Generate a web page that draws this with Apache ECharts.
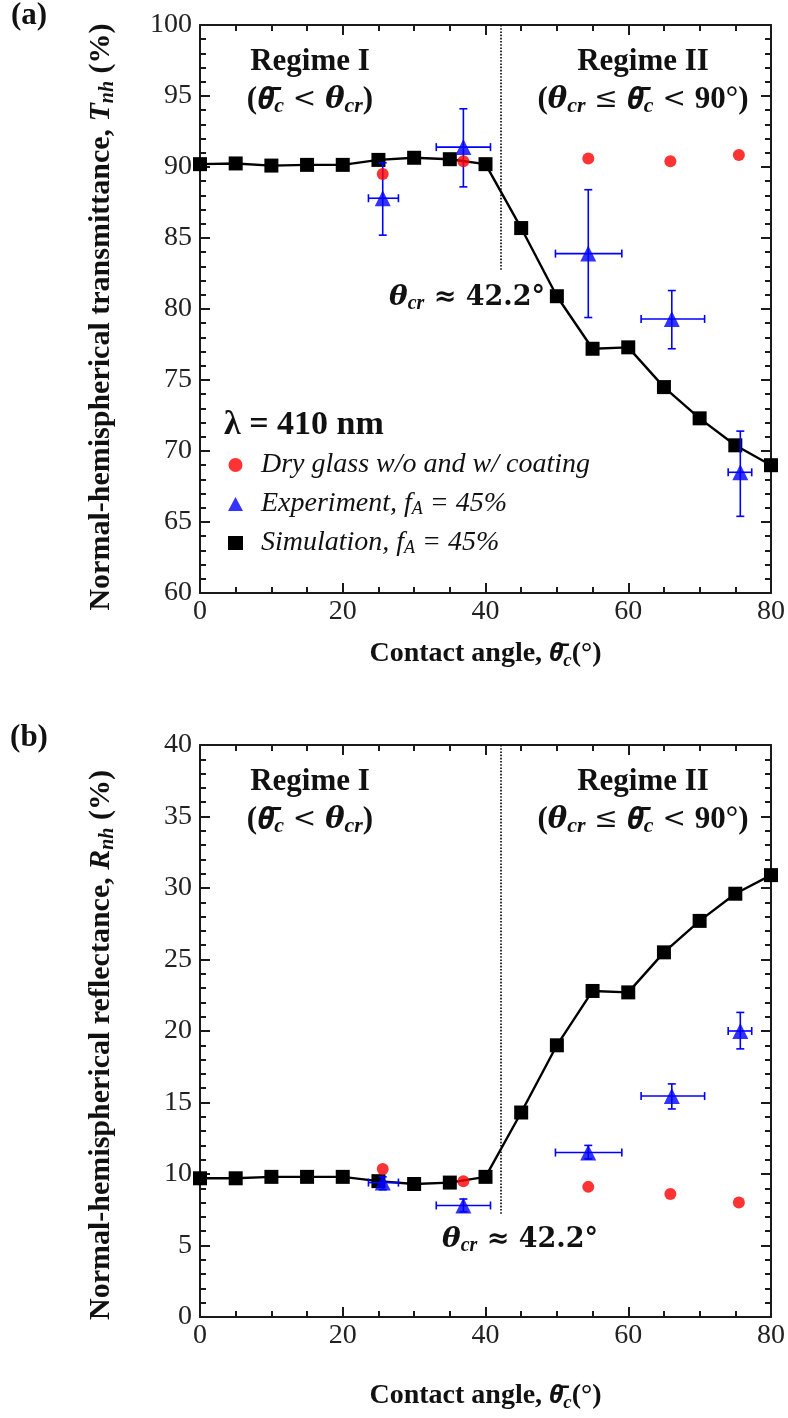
<!DOCTYPE html>
<html>
<head>
<meta charset="utf-8">
<script src="https://cdn.jsdelivr.net/npm/echarts@6/dist/echarts.min.js"></script>
<style>
html,body{margin:0;padding:0;background:#fff;}
#c{width:788px;height:1418px;}
</style>
</head>
<body>
<div id="c"></div>
<script>
// ---------- data ----------
const simX = [0, 5, 10, 15, 20, 25, 30, 35, 40, 45, 50, 55, 60, 65, 70, 75, 80];
const simT = [90.2, 90.25, 90.1, 90.15, 90.15, 90.5, 90.65, 90.55, 90.2, 85.7, 80.9, 77.2, 77.3, 74.5, 72.3, 70.4, 69.0];
const simR = [9.7, 9.7, 9.8, 9.8, 9.8, 9.5, 9.3, 9.4, 9.8, 14.3, 19.0, 22.8, 22.7, 25.5, 27.7, 29.6, 30.9];

const expX   = [25.6, 36.9, 54.4, 66.1, 75.7];
const expXLo = [23.6, 33.1, 49.8, 61.8, 74.0];
const expXHi = [27.8, 40.7, 59.1, 70.7, 77.3];
const expT   = [87.8, 91.4, 83.9, 79.3, 68.5];
const expTLo = [85.2, 88.6, 79.4, 77.2, 65.4];
const expTHi = [90.3, 94.1, 88.4, 81.3, 71.4];
const expR   = [9.4, 7.8, 11.5, 15.45, 20.0];
const expRLo = [8.9, 7.35, 11.05, 14.55, 18.75];
const expRHi = [9.8, 8.25, 12.0, 16.3, 21.3];

const dryX = [25.6, 36.9, 54.4, 65.9, 75.5];
const dryT = [89.5, 90.4, 90.6, 90.4, 90.85];
const dryR = [10.35, 9.5, 9.1, 8.6, 8.0];

const thetaCr = 42.2;
const xTickLabels = ['0', '20', '40', '60', '80'];

const NAME_DRY = 'Dry glass w/o and w/ coating';
const NAME_EXP = 'Experiment, fA = 45%';
const NAME_SIM = 'Simulation, fA = 45%';

// ---------- helpers ----------
const SERIF = '"Liberation Serif","Times New Roman",serif';
const MATH = '"DejaVu Serif","Liberation Serif",serif';
const OVF = '"Noto Sans","DejaVu Sans",sans-serif';
const AX = '#1a1a1a';

function pairs(xs, ys) { return xs.map((x, i) => [x, ys[i]]); }
function errData(xs, ys, xl, xh, yl, yh) { return xs.map((x, i) => [x, ys[i], xl[i], xh[i], yl[i], yh[i]]); }

function errRender(params, api) {
  const x = api.value(0), y = api.value(1);
  const c = api.coord([x, y]);
  const l = api.coord([api.value(2), y]);
  const r = api.coord([api.value(3), y]);
  const b = api.coord([x, api.value(4)]);
  const t = api.coord([x, api.value(5)]);
  const cap = 4;
  const st = { stroke: '#0000ff', lineWidth: 1.6, fill: null };
  return {
    type: 'group',
    children: [
      { type: 'line', shape: { x1: l[0], y1: c[1], x2: r[0], y2: c[1] }, style: st },
      { type: 'line', shape: { x1: c[0], y1: b[1], x2: c[0], y2: t[1] }, style: st },
      { type: 'line', shape: { x1: l[0], y1: c[1] - cap, x2: l[0], y2: c[1] + cap }, style: st },
      { type: 'line', shape: { x1: r[0], y1: c[1] - cap, x2: r[0], y2: c[1] + cap }, style: st },
      { type: 'line', shape: { x1: c[0] - cap, y1: b[1], x2: c[0] + cap, y2: b[1] }, style: st },
      { type: 'line', shape: { x1: c[0] - cap, y1: t[1], x2: c[0] + cap, y2: t[1] }, style: st }
    ]
  };
}

const titleRich = {
  n: { fontFamily: SERIF, fontWeight: 'bold', fontSize: 30, color: '#111', fill: '#111', lineHeight: 34, verticalAlign: 'middle' },
  bi: { fontFamily: SERIF, fontWeight: 'bold', fontStyle: 'italic', fontSize: 30, color: '#111', fill: '#111', lineHeight: 34, verticalAlign: 'middle' },
  ov: { fontFamily: OVF, fontWeight: 'bold', fontStyle: 'italic', fontSize: 25, color: '#111', fill: '#111', lineHeight: 34, verticalAlign: 'middle' },
  sub: { fontFamily: SERIF, fontWeight: 'bold', fontStyle: 'italic', fontSize: 20, color: '#111', fill: '#111', lineHeight: 26, verticalAlign: 'bottom' }
};
const xTitleRich = Object.assign({}, titleRich, {
  n: Object.assign({}, titleRich.n, { fontSize: 28 }),
  sub: Object.assign({}, titleRich.sub, { fontSize: 19 })
});

function xAxes(gridIndex, nameGap) {
  const base = {
    gridIndex, type: 'value', min: 0, max: 80, interval: 20,
    axisLine: { show: true, onZero: false, lineStyle: { color: AX, width: 2 } },
    axisTick: { show: true, inside: true, length: 10, lineStyle: { color: AX, width: 2 } },
    minorTick: { show: true, splitNumber: 4, length: 6, lineStyle: { color: AX, width: 2 } },
    splitLine: { show: false }
  };
  return [
    Object.assign({}, base, {
      position: 'bottom',
      axisLabel: { show: true, margin: 5, color: '#222', fontFamily: SERIF, fontSize: 28,
        formatter: v => xTickLabels[Math.round(v / 20)] },
      name: '{n|Contact angle, }{ov|θ̄}{sub|c}{n|(°)}',
      nameLocation: 'middle', nameGap,
      nameTextStyle: { rich: xTitleRich }
    }),
    Object.assign({}, base, { position: 'top', axisLabel: { show: false } })
  ];
}

function yAxes(gridIndex, min, max) {
  const base = {
    gridIndex, type: 'value', min, max, interval: 5,
    axisLine: { show: true, onZero: false, lineStyle: { color: AX, width: 2 } },
    axisTick: { show: true, inside: true, length: 10, lineStyle: { color: AX, width: 2 } },
    minorTick: { show: true, splitNumber: 5, length: 6, lineStyle: { color: AX, width: 2 } },
    splitLine: { show: false }
  };
  return [
    Object.assign({}, base, {
      position: 'left',
      axisLabel: { show: true, margin: 8, color: '#222', fontFamily: SERIF, fontSize: 28 }
    }),
    Object.assign({}, base, { position: 'right', axisLabel: { show: false } })
  ];
}

function seriesFor(gi, simY, dryY, eY, eLo, eHi, lineEndY) {
  const xa = gi * 2, ya = gi * 2;
  return [
    {
      name: NAME_SIM, type: 'line', xAxisIndex: xa, yAxisIndex: ya,
      data: pairs(simX, simY), symbol: 'rect', symbolSize: 14, clip: false,
      lineStyle: { color: '#000', width: 2.4 }, itemStyle: { color: '#000' }, z: 3,
      markLine: {
        silent: true, symbol: 'none', label: { show: false },
        lineStyle: { color: '#000', type: 'dotted', width: 1.6 },
        data: [[{ coord: [thetaCr, lineEndY[0]] }, { coord: [thetaCr, lineEndY[1]] }]]
      }
    },
    {
      type: 'custom', xAxisIndex: xa, yAxisIndex: ya, renderItem: errRender,
      data: errData(expX, eY, expXLo, expXHi, eLo, eHi), encode: { x: 0, y: 1 }, z: 4, silent: true
    },
    {
      name: NAME_EXP, type: 'scatter', xAxisIndex: xa, yAxisIndex: ya,
      data: pairs(expX, eY), symbol: 'triangle', symbolSize: 16,
      itemStyle: { color: '#0000ff' }, z: 5
    },
    {
      name: NAME_DRY, type: 'scatter', xAxisIndex: xa, yAxisIndex: ya,
      data: pairs(dryX, dryY), symbol: 'circle', symbolSize: 12,
      itemStyle: { color: '#ff0000' }, z: 6
    }
  ];
}

const boldRich = {
  b: { fontFamily: SERIF, fontWeight: 'bold', fontSize: 31, fill: '#111', lineHeight: 34, verticalAlign: 'middle' },
  th: { fontFamily: MATH, fontWeight: 'bold', fontStyle: 'italic', fontSize: 29, fill: '#111', lineHeight: 34, verticalAlign: 'middle' },
  ov: { fontFamily: OVF, fontWeight: 'bold', fontStyle: 'italic', fontSize: 30, fill: '#111', lineHeight: 34, verticalAlign: 'middle' },
  sub: { fontFamily: SERIF, fontWeight: 'bold', fontStyle: 'italic', fontSize: 22, fill: '#111', lineHeight: 22, verticalAlign: 'bottom' },
  op: { fontFamily: MATH, fontSize: 28, fill: '#111', lineHeight: 34, verticalAlign: 'middle' }
};
const annRich = {
  th: { fontFamily: MATH, fontWeight: 'bold', fontStyle: 'italic', fontSize: 28, fill: '#111', lineHeight: 32, verticalAlign: 'middle' },
  sub: { fontFamily: SERIF, fontWeight: 'bold', fontStyle: 'italic', fontSize: 20, fill: '#111', lineHeight: 20, verticalAlign: 'bottom' },
  m: { fontFamily: MATH, fontWeight: 'bold', fontSize: 27, fill: '#111', lineHeight: 32, verticalAlign: 'middle' }
};

function txt(x, y, text, rich, align, rotation) {
  return { type: 'text', x, y, rotation: rotation || 0, silent: true,
    style: { text, rich, textAlign: align || 'center', textVerticalAlign: 'middle', fill: '#111' } };
}

const chart = echarts.init(document.getElementById('c'), null, { renderer: 'canvas' });

const option = {
  backgroundColor: '#fff',
  animation: false,
  grid: [
    { left: 200, top: 25, width: 576, height: 568 },
    { left: 200, top: 745, width: 576, height: 572 }
  ],
  xAxis: [...xAxes(0, 44), ...xAxes(1, 62)],
  yAxis: [...yAxes(0, 60, 100), ...yAxes(1, 0, 40)],
  legend: {
    orient: 'vertical', left: 228, top: 451, padding: 0, itemGap: 11,
    itemWidth: 15, itemHeight: 14, selectedMode: false,
    data: [
      { name: NAME_DRY, icon: 'circle', itemStyle: { color: '#ff0000' } },
      { name: NAME_EXP, icon: 'triangle', itemStyle: { color: '#0000ff' } },
      { name: NAME_SIM, icon: 'rect', itemStyle: { color: '#000' } }
    ],
    formatter: function (n) {
      if (n === NAME_DRY) return '{it|Dry glass w/o and w/ coating}';
      if (n === NAME_EXP) return '{it|Experiment, f}{sub|A}{it| = 45%}';
      return '{it|Simulation, f}{sub|A}{it| = 45%}';
    },
    textStyle: {
      padding: [0, 0, 0, 13],
      rich: {
        it: { fontFamily: SERIF, fontStyle: 'italic', fontSize: 28, color: '#111', lineHeight: 28, verticalAlign: 'middle' },
        sub: { fontFamily: SERIF, fontStyle: 'italic', fontSize: 18, color: '#111', lineHeight: 16, verticalAlign: 'bottom' }
      }
    }
  },
  series: [
    ...seriesFor(0, simT, dryT, expT, expTLo, expTHi, [100, 82.7]),
    ...seriesFor(1, simR, dryR, expR, expRLo, expRHi, [40, 7.2])
  ],
  graphic: [
    txt(29, 16, '{b|(a)}', boldRich),
    txt(29, 738, '{b|(b)}', boldRich),
    // y-axis titles
    txt(101, 317, '{n|Normal-hemispherical transmittance, }{bi|T}{sub|nh}{n| (%)}', titleRich, 'center', Math.PI / 2),
    txt(101, 1045, '{n|Normal-hemispherical reflectance, }{bi|R}{sub|nh}{n| (%)}', titleRich, 'center', Math.PI / 2),
    // top panel annotations
    txt(310, 62, '{b|Regime I}', boldRich),
    txt(310, 100, '{b|(}{ov|θ̄}{sub|c}{op| < }{th|θ}{sub|cr}{b|)}', boldRich),
    txt(643, 62, '{b|Regime II}', boldRich),
    txt(643, 100, '{b|(}{th|θ}{sub|cr}{op| ≤ }{ov|θ̄}{sub|c}{op| < }{b|90°)}', boldRich),
    txt(467, 298, '{th|θ}{sub|cr}{m| ≈ 42.2°}', annRich),
    { type: 'text', x: 224, y: 425, silent: true,
      style: { text: 'λ = 410 nm', font: 'bold 34px ' + SERIF, fill: '#111', textAlign: 'left', textVerticalAlign: 'middle' } },
    // bottom panel annotations
    txt(310, 782, '{b|Regime I}', boldRich),
    txt(310, 820, '{b|(}{ov|θ̄}{sub|c}{op| < }{th|θ}{sub|cr}{b|)}', boldRich),
    txt(643, 782, '{b|Regime II}', boldRich),
    txt(643, 820, '{b|(}{th|θ}{sub|cr}{op| ≤ }{ov|θ̄}{sub|c}{op| < }{b|90°)}', boldRich),
    txt(520, 1240, '{th|θ}{sub|cr}{m| ≈ 42.2°}', annRich)
  ]
};
chart.setOption(option);
</script>
</body>
</html>
